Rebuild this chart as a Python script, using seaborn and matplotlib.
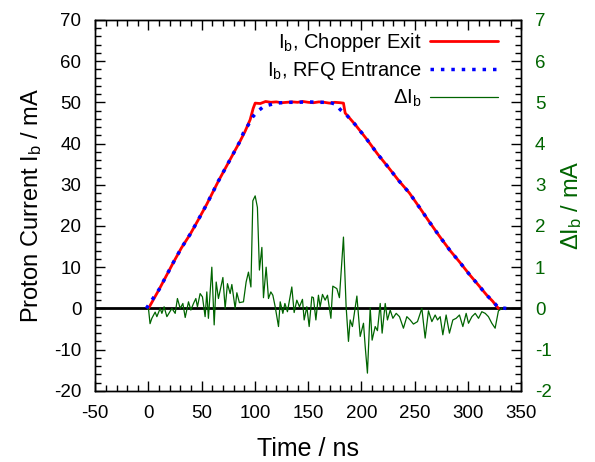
"""
Corriente de protones en la salida del chopper y entrada del RFQ,
con la diferencia entre ambas en el eje derecho.
"""

import matplotlib
matplotlib.use("Agg")
import matplotlib.pyplot as plt
from matplotlib.ticker import MultipleLocator
import seaborn as sns

# 1. Datos
t_chopper = [0, 10, 23.5, 31, 39.2, 47, 54.8, 65.7, 76, 86.1, 90.8, 95.5, 98.3, 100.2,
             105, 110, 115, 120, 125, 130, 135, 140, 145, 150, 155, 160, 165, 170,
             175, 180, 183.1, 184.7, 194.1, 205.1, 215, 225, 235, 245, 255, 262.9,
             273, 283.3, 292, 302.1, 310, 317.7, 323, 328.6]
i_chopper = [0, 4.6, 11.2, 14.7, 18.0, 21.6, 25.3, 30.9, 35.8, 40.6, 43.0, 45.8, 48.5, 49.8,
             49.7, 50.2, 50.0, 50.1, 49.9, 50.0, 50.1, 50.0, 50.2, 50.0, 49.9, 50.1, 50.0, 49.8,
             50.0, 49.9, 49.8, 47.4, 44.6, 41.0, 37.5, 34.3, 31.0, 28.0, 24.3, 21.3,
             17.6, 14.0, 11.3, 8.0, 5.6, 3.2, 1.8, 0]

t_rfq = [-2, 10, 23.5, 31, 39.2, 47, 54.8, 65.7, 76, 86.1, 89.2, 93.9, 98, 103, 107.7,
         112.4, 120, 130, 140, 150, 160, 170, 176, 180.2, 185, 194.1, 205.1, 215, 225,
         235, 245, 255, 262.9, 273, 283.3, 292, 302.1, 310, 317.7, 323, 328.6, 336]
i_rfq = [0, 4.6, 11.2, 14.7, 18.0, 21.6, 25.3, 30.9, 35.8, 40.6, 42.6, 44.6, 46.5, 47.9, 48.9,
         49.3, 49.8, 50.0, 50.0, 50.1, 50.0, 50.0, 49.5, 48.2, 47.2, 44.6, 41.0, 37.5, 34.3,
         31.0, 28.0, 24.3, 21.3, 17.6, 14.0, 11.3, 8.0, 5.6, 3.2, 1.8, 0.2, 0]

t_delta = [0, 1.5, 3.2, 6.3, 7.9, 11, 12.6, 14.7, 17.3, 22, 25.1, 27.2, 29.8, 32.3, 34.5,
           37.6, 39.8, 42.3, 44.5, 46, 48.5, 50.7, 53.2, 54.8, 56.3, 59.5, 61.7, 63.6, 65.7,
           69.9, 72, 74.2, 76.7, 78.3, 81.4, 83, 85.4, 89.2, 91.7, 93.9, 96.2, 98, 100.2,
           102.3, 104.2, 106.5, 108, 110.5, 112.7, 114.9, 116.8, 119, 122.1, 123.7, 126.2,
           128.1, 130.5, 134.6, 136.8, 139.3, 141.8, 144.6, 146.2, 148.7, 150.9, 153.4,
           154.9, 157.2, 159.6, 161.2, 163.4, 165.9, 168.1, 171.3, 173.1, 176.9, 179.3,
           183.1, 185.6, 187.8, 189.4, 191.5, 195.7, 198.8, 201.9, 203.5, 205.6, 208.2,
           210, 212.9, 215, 217.6, 219.4, 222.3, 224.4, 227, 229.5, 232.6, 235.7, 239.4,
           242.6, 245.7, 248.8, 252.6, 256.7, 259.8, 262.9, 266.1, 269.2, 271.4, 273.9,
           276.4, 279.5, 282.6, 285.8, 288.9, 292, 295.2, 298.3, 300.5, 303.7, 306.8,
           309.9, 313, 316.2, 319.2, 322.4, 325.5, 328.6, 331.8]
d_delta = [0, -0.37, -0.24, -0.09, -0.2, 0, -0.12, 0.04, -0.2, 0, -0.12, 0.24, 0, 0.12, -0.22,
           0.16, -0.04, 0.12, 0.24, 0.04, 0.36, 0.28, -0.2, 0.4, -0.24, 1.0, -0.4, 0.64, 0.24,
           0.75, 0, 0.6, 0.36, 0.58, 0, 0.38, 0.14, 0.16, 0.64, 0.88, 0.52, 2.61, 2.73,
           2.45, 0.93, 1.48, 0.26, 1.0, 0.24, 0.4, 0.32, 0.04, -0.44, 0.16, -0.12,
           0.12, -0.08, 0.52, -0.1, 0.2, 0.04, 0.22, -0.28, 0.04, -0.44, 0.28,
           0.26, -0.28, 0.32, 0.04, 0.34, 0.2, 0.32, -0.24, 0.54, 0.48, 0.26,
           1.73, 0.04, -0.8, -0.28, -0.44, 0.3, -0.68, -0.36, -0.92, -1.57, 0.02,
           -0.77, -0.44, -0.54, 0.12, -0.6, 0.12, -0.28, -0.04, -0.24, -0.12, -0.2, -0.48,
           -0.2, -0.28, -0.38, -0.32, 0, -0.72, -0.06, -0.32, -0.16, -0.28, -0.2,
           -0.64, -0.16, -0.6, -0.28, -0.24, -0.16, -0.44, -0.12, -0.36, -0.2, -0.12,
           -0.24, -0.08, -0.12, -0.2, -0.36, -0.48, -0.06, 0]

# 2. Estilo
sns.set_style("ticks")
plt.rcParams["font.family"] = ["Liberation Sans", "DejaVu Sans"]
plt.rcParams["mathtext.fontset"] = "custom"
plt.rcParams["mathtext.rm"] = "Liberation Sans"
plt.rcParams["mathtext.it"] = "Liberation Sans"
plt.rcParams["xtick.direction"] = "in"
plt.rcParams["ytick.direction"] = "in"
for clave in ("text.color", "axes.labelcolor", "axes.edgecolor", "xtick.color", "ytick.color"):
    plt.rcParams[clave] = "black"

verde = "#006400"

fig, ax = plt.subplots(figsize=(5.95, 4.62), dpi=100)
fig.subplots_adjust(left=0.160, right=0.876, bottom=0.154, top=0.957)
ax2 = ax.twinx()

ax.axhline(0, color="black", lw=2, zorder=1)
sns.lineplot(x=t_chopper, y=i_chopper, ax=ax, color="red", lw=2, sort=False,
             estimator=None, label=r"I$_\mathrm{b}$, Chopper Exit", legend=False, zorder=3)
sns.lineplot(x=t_rfq, y=i_rfq, ax=ax, color="blue", lw=2.5, linestyle=(0, (1, 2)),
             sort=False, estimator=None, label=r"I$_\mathrm{b}$, RFQ Entrance",
             legend=False, zorder=4)
sns.lineplot(x=t_delta, y=d_delta, ax=ax2, color=verde, lw=0.9, sort=False,
             estimator=None, label=r"ΔI$_\mathrm{b}$", legend=False)

# 3. Ejes
ax.set_xlim(-50, 350)
ax.set_ylim(-20, 70)
ax2.set_ylim(-2, 7)
ax.xaxis.set_major_locator(MultipleLocator(50))
ax.xaxis.set_minor_locator(MultipleLocator(10))
ax.yaxis.set_major_locator(MultipleLocator(10))
ax.yaxis.set_minor_locator(MultipleLocator(2))
ax2.yaxis.set_major_locator(MultipleLocator(1))
ax2.yaxis.set_minor_locator(MultipleLocator(0.2))
fmt = plt.FuncFormatter(lambda v, p: f"{v:g}")
ax.xaxis.set_major_formatter(fmt)
ax.yaxis.set_major_formatter(fmt)
ax2.yaxis.set_major_formatter(fmt)

ax.tick_params(axis="x", which="both", top=True, labelsize=13.5, pad=10)
ax.tick_params(axis="x", which="major", length=7, width=1)
ax.tick_params(axis="x", which="minor", length=4, width=1)
ax.tick_params(axis="y", which="major", length=7, width=1, labelsize=13.5, pad=10)
ax.tick_params(axis="y", which="minor", length=4, width=1)
ax2.tick_params(axis="y", which="major", length=7, width=1, labelsize=13.5, pad=10,
                labelcolor=verde)
ax2.tick_params(axis="y", which="minor", length=4, width=1)
for a in (ax, ax2):
    for s in a.spines.values():
        s.set_linewidth(1)
        s.set_color("black")

ax.set_xlabel("Time / ns", fontsize=18, labelpad=11)
ax.set_ylabel(r"Proton Current I$_\mathrm{b}$ / mA", fontsize=17, labelpad=7)
ax2.set_ylabel(r"ΔI$_\mathrm{b}$ / mA", fontsize=17, color=verde, labelpad=5)

h1, l1 = ax.get_legend_handles_labels()
h2, l2 = ax2.get_legend_handles_labels()
leg = ax2.legend(h1 + h2, l1 + l2, loc="upper right", bbox_to_anchor=(0.977, 1.005),
                 frameon=False, markerfirst=False, fontsize=14.5, handlelength=3.4,
                 handletextpad=0.4, labelspacing=0.3, borderaxespad=0.25)

plt.savefig("out.png", dpi=100)
